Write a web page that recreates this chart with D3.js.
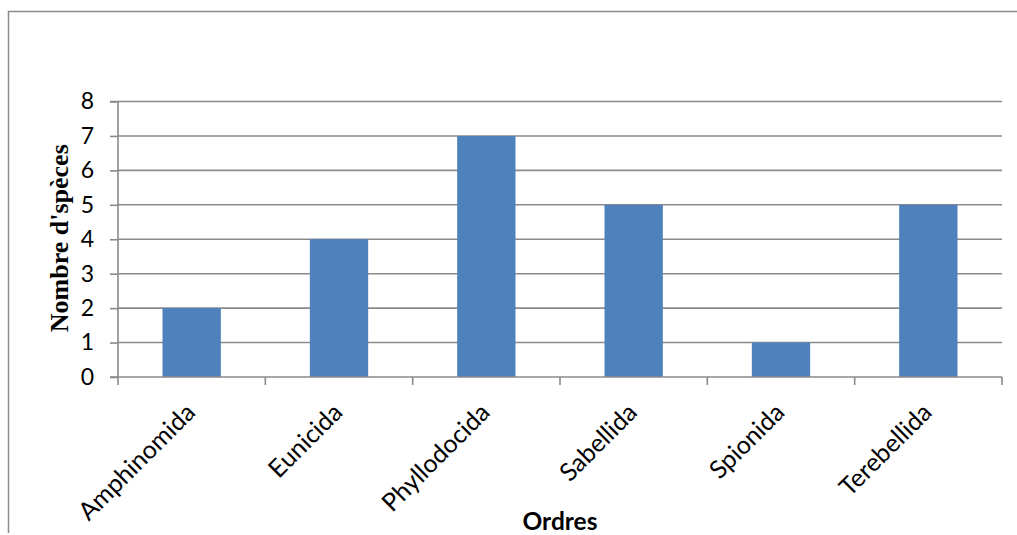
<!DOCTYPE html>
<html>
<head>
<meta charset="utf-8">
<script src="https://cdn.jsdelivr.net/npm/d3@7"></script>
<style>
  html, body { margin: 0; padding: 0; background: #fff; overflow: hidden; }
  svg { display: block; }
</style>
</head>
<body>
<svg id="chart" width="1017" height="535"></svg>
<script>
const categories = ["Amphinomida", "Eunicida", "Phyllodocida", "Sabellida", "Spionida", "Terebellida"];
const values = [2, 4, 7, 5, 1, 5];
const yTicks = [0, 1, 2, 3, 4, 5, 6, 7, 8];
const yTitle = "Nombre d'spèces";
const xTitle = "Ordres";

const svg = d3.select("#chart");
const W = 1017, H = 535;
const m = { left: 118, right: 15, top: 101.5, bottom: 158 };
const plotW = W - m.left - m.right;   // 884
const plotH = H - m.top - m.bottom;

// outer chart border (only top and left edges are inside the picture)
svg.append("path")
  .attr("d", "M8.5,533V11.5H1017")
  .attr("fill", "none").attr("stroke", "#8c8c8c").attr("stroke-width", 1.5);

const x = d3.scaleBand().domain(categories).range([0, plotW]).paddingInner(0.604).paddingOuter(0.302);
const xb = d3.scaleBand().domain(categories).range([0, plotW]).padding(0);
const y = d3.scaleLinear().domain([0, 8]).range([plotH, 0]);

const g = svg.append("g").attr("transform", `translate(${m.left},${m.top})`);

const gridColor = "#8a8a8a";
const sans = "Lato, 'Open Sans', sans-serif";

// gridlines
g.append("g").selectAll("line").data(yTicks.filter(d => d > 0)).join("line")
  .attr("x1", 0).attr("x2", plotW)
  .attr("y1", d => y(d)).attr("y2", d => y(d))
  .attr("stroke", gridColor).attr("stroke-width", 1.6);

// bars
g.append("g").selectAll("rect").data(values).join("rect")
  .attr("x", (d, i) => x(categories[i]))
  .attr("y", d => y(d))
  .attr("width", x.bandwidth())
  .attr("height", d => plotH - y(d))
  .attr("fill", "#4f81bd");

// y axis
const yAxis = d3.axisLeft(y).tickValues(yTicks).tickSize(8).tickPadding(16).tickFormat(d3.format("d"));
const yg = g.append("g").call(yAxis);
yg.select(".domain").attr("stroke", gridColor).attr("stroke-width", 1.6).attr("d", `M-8,0H0V${plotH}H-8`);
yg.selectAll(".tick line").attr("stroke", gridColor).attr("stroke-width", 1.6);
yg.selectAll(".tick text")
  .attr("font-family", sans)
  .attr("font-size", 23).attr("fill", "#000");

// x axis
const xg = g.append("g").attr("transform", `translate(0,${plotH})`);
xg.append("line").attr("x1", 0).attr("x2", plotW).attr("y1", 0).attr("y2", 0)
  .attr("stroke", gridColor).attr("stroke-width", 1.6);
const tickPos = categories.map(c => xb(c)).concat([plotW]);
xg.selectAll("line.tk").data(tickPos).join("line").attr("class", "tk")
  .attr("x1", d => d).attr("x2", d => d).attr("y1", 0).attr("y2", 8)
  .attr("stroke", gridColor).attr("stroke-width", 1.6);
xg.selectAll("text.lbl").data(categories).join("text").attr("class", "lbl")
  .attr("transform", d => `translate(${xb(d) + xb.bandwidth() / 2 + 5},${37}) rotate(-45)`)
  .attr("text-anchor", "end")
  .attr("font-family", sans)
  .attr("font-size", 25).attr("fill", "#000")
  .text(d => d);

// axis titles
svg.append("text")
  .attr("transform", `translate(68,${m.top + plotH / 2 - 1}) rotate(-90)`)
  .attr("text-anchor", "middle")
  .attr("font-family", "'Liberation Serif', 'Times New Roman', serif")
  .attr("font-weight", "bold").attr("font-size", 26).attr("fill", "#000")
  .text(yTitle);

svg.append("text")
  .attr("x", 560).attr("y", 530)
  .attr("text-anchor", "middle")
  .attr("font-family", sans)
  .attr("font-weight", "bold").attr("font-size", 24.5).attr("fill", "#000")
  .text(xTitle);
</script>
</body>
</html>
